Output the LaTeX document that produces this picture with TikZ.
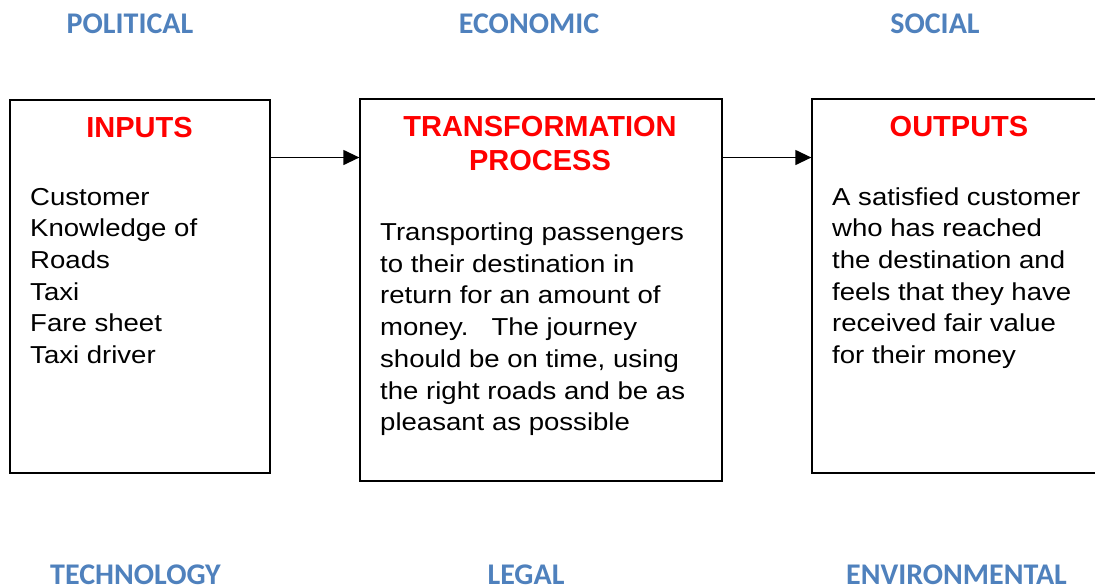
\documentclass[tikz,border=0pt]{standalone}
\usepackage{fontspec}
\setmainfont{Liberation Sans}
\newfontfamily\bodyfont{Liberation Sans}[FakeStretch=1.125]
\newfontfamily\headfont{Liberation Sans}
\newfontfamily\pestfont{Carlito}
\usetikzlibrary{arrows.meta}
\definecolor{pestblue}{HTML}{4F81BD}
\definecolor{headred}{HTML}{FF0000}
\tikzset{
  stage/.style={draw=black, line width=1.3pt, inner sep=0pt, fill=white},
  heading/.style={anchor=base, inner sep=0pt, text=headred,
    font=\headfont\bfseries\fontsize{29}{34}\selectfont, align=center},
  body/.style={anchor=base west, inner sep=0pt},
  factor/.style={anchor=base, inner sep=0pt, text=pestblue,
    font=\pestfont\bfseries\fontsize{30}{36}\selectfont},
  flow/.style={line width=1.3pt, -{Triangle[length=16pt,width=15pt]}}
}
\newcommand{\bodylines}[1]{\parbox[t]{340pt}{\bodyfont\fontsize{24.5}{31.7}\selectfont #1}}
\begin{document}
\begin{tikzpicture}[x=1pt, y=-1pt]
  \useasboundingbox (0,0) rectangle (1095,587);
  \clip (0,0) rectangle (1095,587);
  \fill[white] (0,0) rectangle (1095,587);

  % the three stages of the process
  \node[stage, minimum width=260pt, minimum height=373pt] (inputs) at (140,286.5) {};
  \node[stage, minimum width=362pt, minimum height=382pt] (transform) at (541,290) {};
  \node[stage, minimum width=288pt, minimum height=374pt] (outputs) at (956,286) {};

  % headings (a two-line heading sits on its last baseline)
  \node[heading] (inhead) at (139.5,137) {INPUTS};
  \node[heading] (trhead) at (540,170.7) {TRANSFORMATION\\PROCESS};
  \node[heading] (outhead) at (959,136) {OUTPUTS};

  % contents
  \node[body] (intext) at (30,205) {\bodylines{Customer\\Knowledge of\\Roads\\Taxi\\Fare sheet\\Taxi driver}};
  \node[body] (trtext) at (380,240.5) {\bodylines{Transporting passengers\\to their destination in\\return for an amount of\\money.\ \ \ The journey\\should be on time, using\\the right roads and be as\\pleasant as possible}};
  \node[body] (outtext) at (832,205) {\bodylines{A satisfied customer\\who has reached\\the destination and\\feels that they have\\received fair value\\for their money}};

  % flow between stages
  \draw[flow] (inputs.east |- 0,157.5) -- (transform.west |- 0,157.5);
  \draw[flow] (transform.east |- 0,157.5) -- (outputs.west |- 0,157.5);

  % external factors
  \node[factor] (political) at (130,33) {POLITICAL};
  \node[factor] (economic) at (529,33) {ECONOMIC};
  \node[factor] (social) at (935,33) {SOCIAL};
  \node[factor] (technology) at (135.5,584.5) {TECHNOLOGY};
  \node[factor] (legal) at (526,584.5) {LEGAL};
  \node[factor] (environmental) at (956.5,584.5) {ENVIRONMENTAL};
\end{tikzpicture}
\end{document}
